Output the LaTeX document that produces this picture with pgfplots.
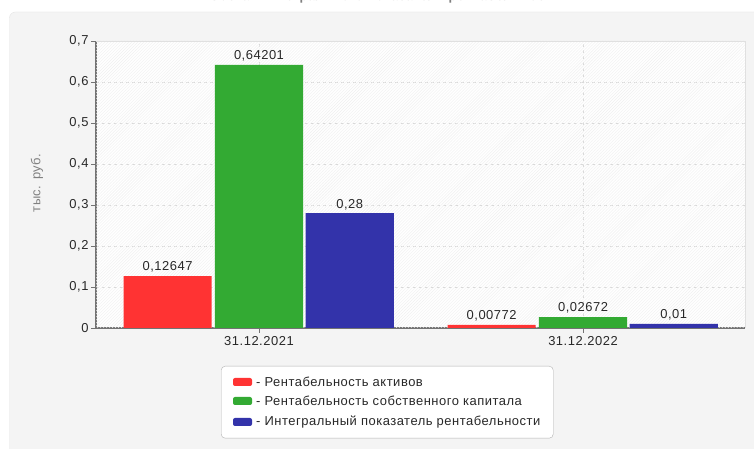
\documentclass[border=0pt]{standalone}
\usepackage{pgfplots}
\pgfplotsset{compat=1.18}
\usepackage{fontspec}
\setmainfont{Liberation Sans}[LetterSpace=4]
\usetikzlibrary{patterns}
\definecolor{cred}{RGB}{255,51,51}
\definecolor{cgreen}{RGB}{51,170,51}
\definecolor{cblue}{RGB}{51,51,170}
\definecolor{panel}{RGB}{244,244,244}
\definecolor{panelborder}{RGB}{228,228,228}
\definecolor{txt}{RGB}{40,40,40}
\begin{document}
\begin{tikzpicture}[x=1bp,y=1bp]
\useasboundingbox (0,0) rectangle (754,449);
\fill[white] (0,0) rectangle (754,449);
\filldraw[fill=panel,draw=panelborder,rounded corners=6bp] (9.5,-10) rectangle (770,437);
\node[anchor=base,font=\bfseries\fontsize{13}{15}\selectfont,text=gray] at (385,448) {Состав интегрального показателя рентабельности};
\node[rotate=90, font=\fontsize{13}{15}\selectfont, text=black!50] at (37,266) {тыс. руб.};
\begin{axis}[
  at={(96bp,121bp)}, anchor=south west,
  scale only axis, width=649bp, height=287bp,
  xmin=-0.503, xmax=1.5, ymin=0, ymax=0.7,
  ytick={0,0.1,...,0.7},
  xtick={0,1}, xticklabels={31.12.2021,31.12.2022},
  axis background/.style={fill=white},
  grid=major,
  major grid style={dashed, color=black!15},
  axis x line*=bottom, axis y line*=left,
  axis line style={color=black!55, line width=1.2pt},
  tick style={color=black!55, line width=0.8pt},
  tick align=outside, major tick length=5bp,
  ticklabel style={font=\fontsize{13}{15}\selectfont, text=txt},
  yticklabel style={xshift=1bp},
  /pgf/number format/assume math mode=true,
  /pgf/number format/.cd, use comma, fixed, precision=1,
  /pgfplots/.cd,
  ybar, bar width=0.272, bar shift=0,
  nodes near coords,
  nodes near coords style={font=\fontsize{13}{15}\selectfont, text=txt, /pgf/number format/.cd, use comma, fixed, precision=5, assume math mode=true},
  clip=false,
]
\fill[pattern=north east lines, pattern color=black!6] (axis cs:-0.503,0) rectangle (axis cs:1.5,0.7);
\draw[black!12] (axis cs:1.5,0) -- (axis cs:1.5,0.7) -- (axis cs:-0.503,0.7);
\addplot[fill=cred, draw=none] coordinates {(-0.282,0.12647) (0.718,0.00772)};
\addplot[fill=cgreen, draw=none] coordinates {(0,0.64201) (1,0.02672)};
\addplot[fill=cblue, draw=none] coordinates {(0.28,0.28) (1.28,0.01)};
\end{axis}
\node[draw=black!30, fill=white, rounded corners=4bp, minimum width=332bp, minimum height=72bp, anchor=north west] at (221,83) {};
\begin{scope}[font=\fontsize{13}{15}\selectfont, text=txt]
\fill[cred, rounded corners=2bp] (233,63) rectangle (252,71);
\node[anchor=west, inner sep=0pt] at (256,67) {- Рентабельность активов};
\fill[cgreen, rounded corners=2bp] (233,44) rectangle (252,52);
\node[anchor=west, inner sep=0pt] at (256,48) {- Рентабельность собственного капитала};
\fill[cblue, rounded corners=2bp] (233,23) rectangle (252,31);
\node[anchor=west, inner sep=0pt] at (256,27) {- Интегральный показатель рентабельности};
\end{scope}
\end{tikzpicture}
\end{document}
